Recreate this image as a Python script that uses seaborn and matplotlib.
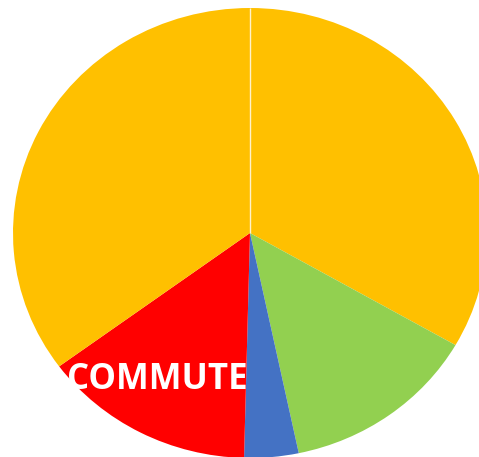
import matplotlib
matplotlib.use("Agg")
import numpy as np
import matplotlib.pyplot as plt
import seaborn as sns

sns.set_theme(style="white")

# slice shares, clockwise from 12 o'clock
categories = ["A", "B", "C", "COMMUTE", "D"]
shares = [33.3, 13.4, 3.7, 14.5, 35.1]
colors = ["#FFC000", "#92D050", "#4472C4", "#FF0000", "#FFC000"]
label_text = "COMMUTE"

fig = plt.figure(figsize=(4.79, 4.57), dpi=100)
ax = fig.add_axes([0, 0, 1, 1])

wedges, _ = ax.pie(shares, colors=colors, startangle=90, counterclock=False,
                   wedgeprops=dict(linewidth=0))

# thin seam where the two yellow slices meet (start of the first wedge)
w = wedges[0]
th = np.deg2rad(w.theta2)
ax.plot([w.center[0], w.center[0] + w.r * np.cos(th)],
        [w.center[1], w.center[1] + w.r * np.sin(th)],
        color="white", lw=1.0, alpha=0.8, solid_capstyle="butt")

# pie is slightly wider than tall and runs off the right edge
ax.set_aspect("auto")
ax.set_xlim(-250 / 237, 229 / 237)
ax.set_ylim(-224 / 225, 233 / 225)
ax.axis("off")

ax.text(-0.39, -0.652, label_text, color="white", fontsize=25,
        fontweight="bold", family="Open Sans", ha="center", va="center")

fig.savefig("out.png", dpi=100)
